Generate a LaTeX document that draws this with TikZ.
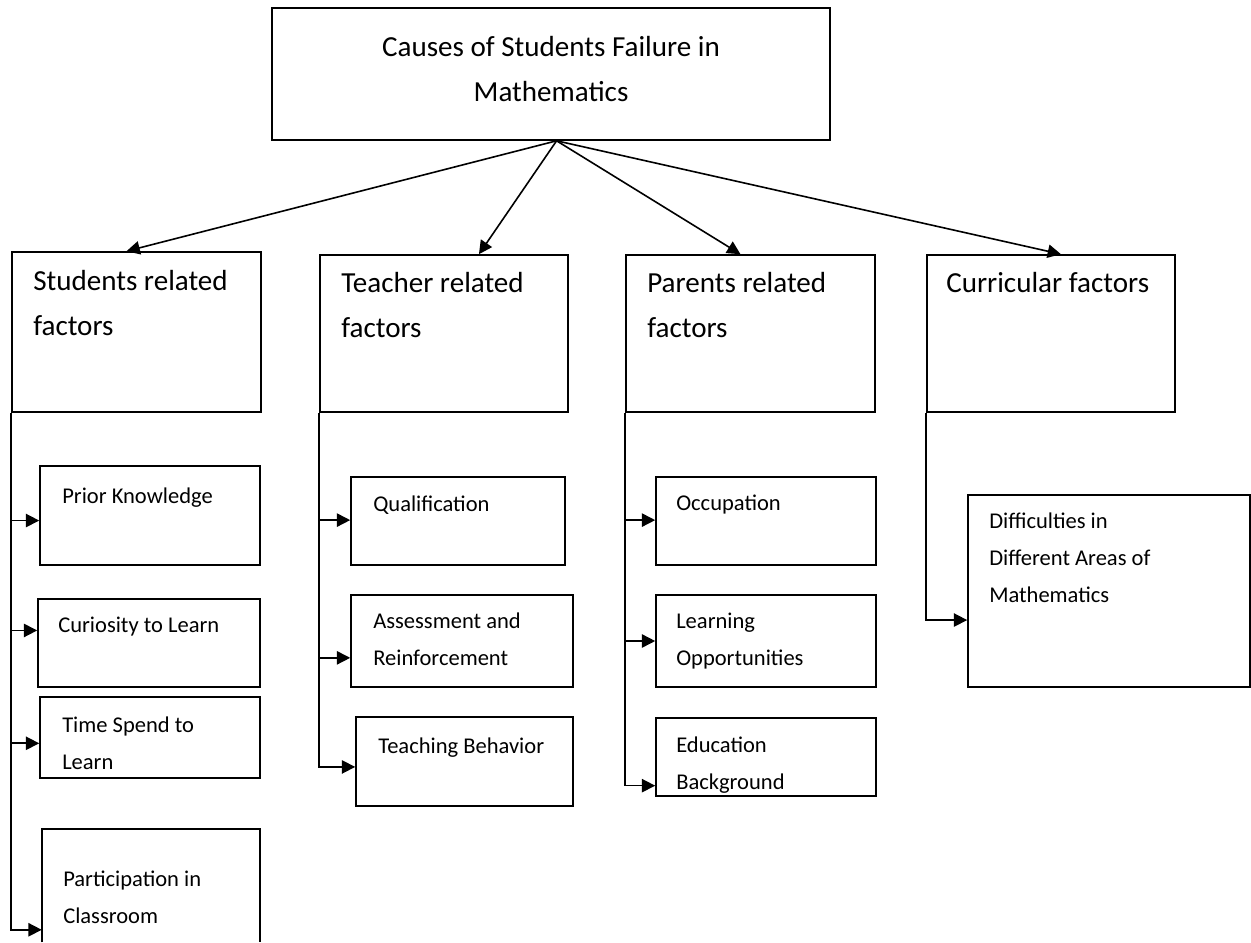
\documentclass[tikz,border=0pt]{standalone}
\usepackage{fontspec}
\setmainfont{Carlito}
\usetikzlibrary{arrows.meta,calc,fit}
\begin{document}
\begin{tikzpicture}[x=0.75pt,y=-0.75pt,
  box/.style={draw,line width=1.2pt,inner sep=0pt},
  openbox/.style={inner sep=0pt},
  hd/.style={inner sep=0pt,align=left,font=\fontsize{21.8}{33.75}\selectfont},
  sub/.style={inner sep=0pt,align=left,font=\fontsize{16.9}{27.5}\selectfont},
  arr/.style={line width=1.2pt,-{Triangle[length=10pt,width=10pt]}}]
\useasboundingbox (0,0) rectangle (1251,942);
% top
\node[box,fit={(272,8)(830,140)}] (top) {};
\node[hd,align=center,anchor=north] (topt) at (551,36) {Causes of Students Failure in\\Mathematics};
% category boxes
\node[box,fit={(12,252)(261,412)}] (stud) {};
\node[hd,anchor=north west] (studt) at (33,270) {Students related\\factors};
\node[box,fit={(320,255)(568,412)}] (teach) {};
\node[hd,anchor=north west] (teacht) at (341,272) {Teacher related\\factors};
\node[box,fit={(626,255)(875,412)}] (par) {};
\node[hd,anchor=north west] (part) at (647,272) {Parents related\\factors};
\node[box,fit={(927,255)(1175,412)}] (cur) {};
\node[hd,anchor=north west] (curt) at (946,272) {Curricular factors};
% student sub boxes
\node[box,fit={(40,466)(260,565)}] (pk) {};
\node[sub,anchor=north west] (pkt) at (62,488) {Prior Knowledge};
\node[box,fit={(38,599)(260,687)}] (cl) {};
\node[sub,anchor=north west] (clt) at (58,617) {Curiosity to Learn};
\node[box,fit={(40,697)(260,778)}] (ts) {};
\node[sub,anchor=north west] (tst) at (62,717) {Time Spend to\\Learn};
\node[openbox,fit={(42,829)(260,942)}] (pc) {};
\draw[line width=1.2pt] (pc.south west) -- (pc.north west) -- (pc.north east) -- (pc.south east);
\node[sub,anchor=north west] (pct) at (63,871) {Participation in\\Classroom};
% teacher sub boxes
\node[box,fit={(351,477)(565,565)}] (qu) {};
\node[sub,anchor=north west] (qut) at (373,496) {Qualification};
\node[box,fit={(351,595)(573,687)}] (ar) {};
\node[sub,anchor=north west] (art) at (373,613) {Assessment and\\Reinforcement};
\node[box,fit={(356,717)(573,806)}] (tb) {};
\node[sub,anchor=north west] (tbt) at (378,738) {Teaching Behavior};
% parent sub boxes
\node[box,fit={(656,477)(876,565)}] (oc) {};
\node[sub,anchor=north west] (oct) at (676,495) {Occupation};
\node[box,fit={(656,595)(876,687)}] (lo) {};
\node[sub,anchor=north west] (lot) at (676,613) {Learning\\Opportunities};
\node[box,fit={(656,718)(876,796)}] (eb) {};
\node[sub,anchor=north west] (ebt) at (676,737) {Education\\Background};
% curricular sub box
\node[box,fit={(968,495)(1250,687)}] (dd) {};
\node[sub,anchor=north west] (ddt) at (989,513) {Difficulties in\\Different Areas of\\Mathematics};
% top connectors
\coordinate (apex) at ($(top.south west)!0.51!(top.south east)$);
\draw[arr] (apex) -- ($(stud.north west)!0.46!(stud.north east)$);
\draw[arr] (apex) -- ($(teach.north west)!0.64!(teach.north east)$);
\draw[arr] (apex) -- ($(par.north west)!0.46!(par.north east)$);
\draw[arr] (apex) -- ($(cur.north west)!0.54!(cur.north east)$);
% side connectors
\draw[arr] (stud.south west) |- ($(pk.north west)!0.55!(pk.south west)$);
\draw[arr] (stud.south west) |- ($(cl.north west)!0.36!(cl.south west)$);
\draw[arr] (stud.south west) |- ($(ts.north west)!0.57!(ts.south west)$);
\draw[arr] (stud.south west) |- ($(pc.north west)!0.89!(pc.south west)$);
\draw[arr] (teach.south west) |- ($(qu.north west)!0.49!(qu.south west)$);
\draw[arr] (teach.south west) |- ($(ar.north west)!0.68!(ar.south west)$);
\draw[arr] (teach.south west) |- ($(tb.north west)!0.56!(tb.south west)$);
\draw[arr] (par.south west) |- ($(oc.north west)!0.49!(oc.south west)$);
\draw[arr] (par.south west) |- ($(lo.north west)!0.50!(lo.south west)$);
\draw[arr] (par.south west) |- ($(eb.north west)!0.86!(eb.south west)$);
\draw[arr] (cur.south west) |- ($(dd.north west)!0.65!(dd.south west)$);
\end{tikzpicture}
\end{document}
